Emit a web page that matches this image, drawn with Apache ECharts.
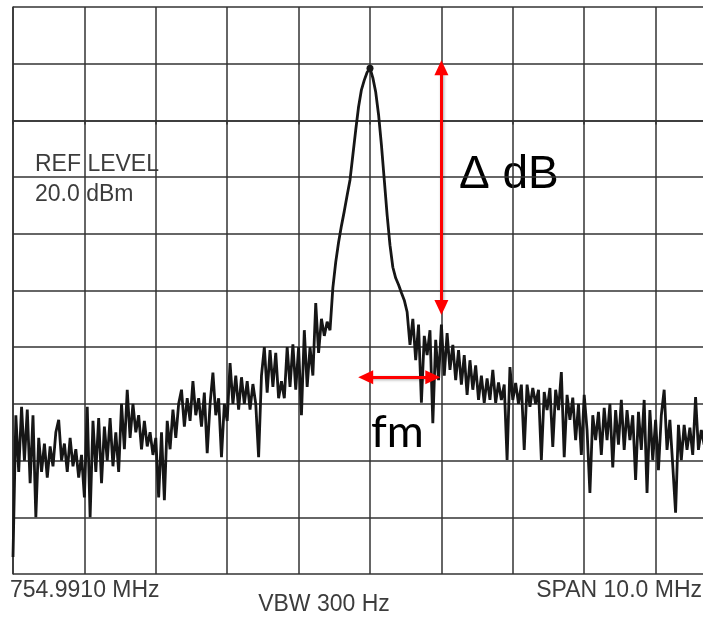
<!DOCTYPE html>
<html>
<head>
<meta charset="utf-8">
<script src="https://cdn.jsdelivr.net/npm/echarts@6/dist/echarts.min.js"></script>
<style>
  html, body { margin: 0; padding: 0; background: #fff; overflow: hidden; }
  /* the grid runs past the right edge of the photo, like the original */
  #main { width: 730px; height: 617px; }
</style>
</head>
<body>
<div id="main"></div>
<script>
  // 扫频参数 (offset from 754.9910 MHz, 1 MHz/div, 10 dB/div)
  var spanMHz = 10;
  var stepMHz = 0.04;
  var refLevel = 20;
  var bottomLevel = -80;

  // 读数 dBm, one per sweep point
  var levelsDbm = [
    -77, -52, -62, -50.5, -60, -51, -64, -52, -70, -56,
    -62, -57, -63, -57.5, -61, -55, -52.8, -60, -57, -62,
    -56, -61, -58, -63, -59, -66.5, -50.5, -70, -53, -62,
    -52.5, -64, -54, -60, -52.5, -61, -55, -62, -50, -58,
    -47.5, -56, -50, -55, -52, -58, -53, -57.5, -55, -59,
    -56, -66.5, -55, -67, -53, -58, -51, -56, -50, -47.5,
    -54, -49, -53, -46, -52, -49, -54, -48, -58.7, -50,
    -44.5, -52, -49, -59.4, -50, -53, -42.8, -50, -45, -51,
    -45.3, -50, -46, -51, -46.5, -50, -59.4, -45, -40, -48,
    -40.5, -47, -41, -49, -46, -49, -40, -47, -39.5, -47.5,
    -40, -52, -37, -47, -40, -45, -32.2, -41, -35, -38,
    -35.5, -37, -29.5, -25, -21.5, -18.6, -16, -13.2, -10.5, -6.1,
    -1.7, 2.4, 5.4, 7.1, 8.5, 9.2, 7.5, 5, 1, -4.3,
    -10.5, -16.7, -22, -25.9, -27.8, -29, -30.4, -31.7, -33.8, -39.6,
    -35, -42.3, -36, -49.8, -38, -41.4, -37, -53.4, -38.7, -45.8,
    -36, -45, -37.5, -44, -39.6, -45.8, -40.5, -46.6, -41.4, -48.4,
    -42.3, -47.5, -43.2, -49.3, -45, -49.8, -45.5, -49.3, -44, -49.8,
    -46.2, -49.3, -46.6, -59.9, -43.5, -49.3, -46.3, -50, -46.6, -58.1,
    -46.6, -50.5, -47.2, -50, -47.5, -59.9, -47.9, -51.1, -47.2, -57.6,
    -47.5, -51.1, -44.4, -59.4, -48.4, -52.8, -48.9, -56.4, -50, -59,
    -48.4, -54.6, -65.7, -52, -56.4, -51.4, -59, -50.7, -56.4, -50,
    -61.2, -51.1, -57.2, -49.3, -58.1, -51.1, -56.4, -52, -63.4, -51.4,
    -58.1, -49.3, -65.7, -51.1, -59.9, -52.8, -61.7, -52, -47.5, -58.1,
    -52.8, -60.8, -69.2, -53.7, -59.9, -53.7, -58.1, -54.2, -59, -48.8,
    -58.1, -54.6, -57.2
  ];

  // 标注箭头 [MHz offset, dBm] (arrow head centres)
  var deltaArrow = [[6.0, 9.3], [6.0, -33.0]];
  var fmArrow = [[4.94, -45.3], [5.88, -45.3]];

  var trace = levelsDbm.map(function (v, i) {
    return [+(i * stepMHz).toFixed(3), v];
  });

  var gridColor = '#333';
  var textColor = '#3c3c3c';
  var font = '"Liberation Sans", Arial, sans-serif';

  var myChart = echarts.init(document.getElementById('main'));

  var option = {
    animation: false,
    backgroundColor: '#fff',
    grid: { left: 13, right: 3, top: 7, bottom: 43 },
    xAxis: {
      type: 'value',
      min: 0,
      max: spanMHz,
      interval: 1,
      axisLine: { show: true, lineStyle: { color: gridColor, width: 1.5 } },
      axisTick: { show: true, length: 4, lineStyle: { color: gridColor, width: 1.5 } },
      axisLabel: { show: false },
      splitLine: { show: true, lineStyle: { color: gridColor, width: 1.5 } }
    },
    yAxis: {
      type: 'value',
      min: bottomLevel,
      max: refLevel,
      interval: 10,
      axisLine: { show: true, lineStyle: { color: gridColor, width: 1.5 } },
      axisTick: { show: false },
      axisLabel: { show: false },
      splitLine: { show: true, lineStyle: { color: gridColor, width: 1.5 } }
    },
    series: [
      {
        name: 'trace',
        type: 'line',
        data: trace,
        showSymbol: false,
        lineStyle: { color: '#161616', width: 2.8 },
        markPoint: {
          symbol: 'circle',
          symbolSize: 7,
          itemStyle: { color: '#161616' },
          label: { show: false },
          data: [{ type: 'max' }]
        },
        markLine: {
          silent: true,
          symbol: ['triangle', 'triangle'],
          symbolSize: [14, 15],
          label: { show: false },
          lineStyle: {
            color: '#ff0000', width: 3, type: 'solid',
            shadowBlur: 3, shadowColor: 'rgba(0,0,0,0.35)', shadowOffsetX: 1, shadowOffsetY: 1
          },
          itemStyle: { color: '#ff0000' },
          data: [
            [{ coord: deltaArrow[0] }, { coord: deltaArrow[1] }],
            [{ coord: fmArrow[0] }, { coord: fmArrow[1] }]
          ]
        }
      }
    ],
    graphic: [
      { type: 'text', style: { x: 35, y: 165, text: 'REF LEVEL', font: '23px ' + font, fill: textColor, textAlign: 'left', textVerticalAlign: 'middle', align: 'left', verticalAlign: 'middle' } },
      { type: 'text', style: { x: 35, y: 195, text: '20.0 dBm', font: '23px ' + font, fill: textColor, textAlign: 'left', textVerticalAlign: 'middle', align: 'left', verticalAlign: 'middle' } },
      { type: 'text', style: { x: 10, y: 591, text: '754.9910 MHz', font: '23px ' + font, fill: textColor, textAlign: 'left', textVerticalAlign: 'middle', align: 'left', verticalAlign: 'middle' } },
      { type: 'text', style: { x: 324, y: 605, text: 'VBW 300 Hz', font: '23px ' + font, fill: textColor, textAlign: 'center', textVerticalAlign: 'middle', align: 'center', verticalAlign: 'middle' } },
      { type: 'text', style: { x: 702, y: 591, text: 'SPAN 10.0 MHz', font: '23px ' + font, fill: textColor, textAlign: 'right', textVerticalAlign: 'middle', align: 'right', verticalAlign: 'middle' } },
      { type: 'text', style: { x: 459, y: 175, text: 'Δ dB', font: '46px ' + font, fill: '#000', textAlign: 'left', textVerticalAlign: 'middle', align: 'left', verticalAlign: 'middle' } },
      { type: 'text', style: { x: 371, y: 432, text: 'fm', font: '45px Lato, "Open Sans", sans-serif', fill: '#000', textAlign: 'left', textVerticalAlign: 'middle', align: 'left', verticalAlign: 'middle' } }
    ]
  };

  myChart.setOption(option);
</script>
</body>
</html>
